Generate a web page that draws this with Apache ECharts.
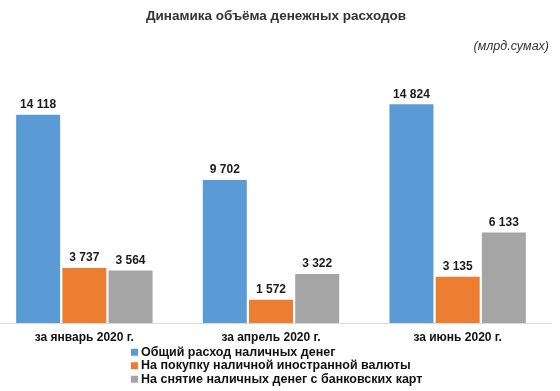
<!DOCTYPE html>
<html><head><meta charset="utf-8">
<script src="https://cdn.jsdelivr.net/npm/echarts@6/dist/echarts.min.js"></script>
<style>html,body{margin:0;padding:0;background:#fff}#c{width:560px;height:391px}</style>
</head><body><div id="c"></div>
<script>
const categories = ['за январь 2020 г.', 'за апрель 2020 г.', 'за июнь 2020 г.'];
const seriesNames = ['Общий расход наличных денег', 'На покупку наличной иностранной валюты', 'На снятие наличных денег с банковских карт'];
const totalCash = [14118, 9702, 14824];
const foreignCurrency = [3737, 1572, 3135];
const cardWithdrawal = [3564, 3322, 6133];
const colors = ['#5B9BD5', '#ED7D31', '#A5A5A5'];
const fmt = v => String(v).replace(/\B(?=(\d{3})+(?!\d))/g, ' ');
const font = 'Arial, "Liberation Sans", sans-serif';
const mk = (name, data, i) => ({
  name, type: 'bar', data, barWidth: 44, barGap: '5%',
  itemStyle: { color: colors[i] },
  label: { show: true, position: 'top', distance: 4, formatter: p => fmt(p.value),
    fontFamily: font, fontWeight: 'bold', fontSize: 12, color: '#1a1a1a' }
});
const chart = echarts.init(document.getElementById('c'));
chart.setOption({
  animation: false,
  title: [
    { text: 'Динамика объёма денежных расходов', left: 271, top: 4, textAlign: 'center',
      textStyle: { fontFamily: font, fontWeight: 'bold', fontSize: 13.5, color: '#333' } },
    { text: '(млрд.сумах)', right: 6, top: 35,
      textStyle: { fontFamily: font, fontStyle: 'italic', fontWeight: 'normal', fontSize: 12.5, color: '#333' } }
  ],
  grid: { left: -9, right: 9, top: 87, bottom: 68, containLabel: false, outerBoundsMode: 'none' },
  legend: {
    orient: 'vertical', left: 131, top: 345.5, height: 60, padding: 0, itemWidth: 7, itemHeight: 7, itemGap: 0,
    icon: 'rect', textStyle: { fontFamily: font, fontSize: 12.5, lineHeight: 13.5, fontWeight: 'bold', color: '#111', padding: [0,0,0,-2] },
    data: seriesNames
  },
  xAxis: { type: 'category', data: categories,
    axisLine: { lineStyle: { color: '#d9d9d9', width: 1 } }, axisTick: { show: false },
    axisLabel: { fontFamily: font, fontWeight: 'bold', fontSize: 12, color: '#111', margin: 9 } },
  yAxis: { type: 'value', min: 0, max: 16000, show: false, splitLine: { show: false } },
  series: [mk(seriesNames[0], totalCash, 0), mk(seriesNames[1], foreignCurrency, 1), mk(seriesNames[2], cardWithdrawal, 2)]
});
</script></body></html>
